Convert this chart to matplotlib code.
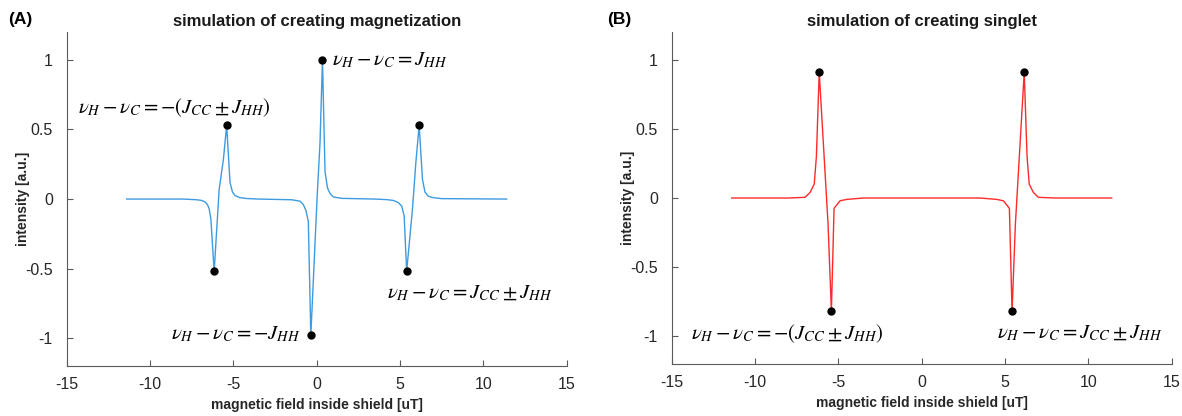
import matplotlib
matplotlib.use("Agg")
import matplotlib.pyplot as plt

plt.rcParams['font.family'] = ['Liberation Sans', 'DejaVu Sans']
plt.rcParams['mathtext.fontset'] = 'stix'
plt.rcParams['axes.unicode_minus'] = False

# panel A: magnetization spectrum
xa = [-11.4, -8.0, -7.2, -6.9, -6.7, -6.55, -6.45, -6.35, -6.15, -5.85, -5.6, -5.4,
      -5.2, -5.05, -4.9, -4.6, -4.2, -3.5,
      -1.5, -1.0, -0.8, -0.65, -0.5, -0.35, 0.03, 0.2, 0.35, 0.5, 0.65, 0.8, 1.0, 1.5,
      3.5, 4.2, 4.6, 4.9, 5.1, 5.25, 5.4, 5.75, 5.95, 6.15, 6.35, 6.5, 6.7, 7.0, 7.5, 11.4]
ya = [0, 0, -0.005, -0.01, -0.02, -0.04, -0.07, -0.14, -0.52, 0.07, 0.28, 0.53,
      0.12, 0.05, 0.025, 0.01, 0.004, 0,
      -0.005, -0.015, -0.04, -0.08, -0.16, -0.98, 0.02, 0.4, 1.0, 0.2, 0.08, 0.04, 0.015, 0.005,
      0, -0.004, -0.01, -0.025, -0.05, -0.12, -0.52, -0.07, 0.26, 0.53, 0.14, 0.05, 0.02, 0.01, 0.003, 0]
peaks_xa = [-6.15, -5.4, -0.35, 0.35, 5.4, 6.15]
peaks_ya = [-0.52, 0.53, -0.98, 1.0, -0.52, 0.53]

# panel B: singlet spectrum
xb = [-11.4, -8.0, -7.0, -6.7, -6.45, -6.32, -6.15, -5.62, -5.42, -5.26, -5.1, -4.9, -4.5, -3.5,
      3.5, 4.5, 4.9, 5.1, 5.26, 5.42, 5.62, 6.15, 6.32, 6.45, 6.7, 7.0, 8.0, 11.4]
yb = [0, 0, 0.005, 0.04, 0.1, 0.3, 0.91, -0.19, -0.82, -0.075, -0.05, -0.02, -0.01, 0,
      0, -0.01, -0.02, -0.05, -0.075, -0.82, -0.19, 0.91, 0.3, 0.1, 0.04, 0.005, 0, 0]
peaks_xb = [-6.15, -5.42, 5.42, 6.15]
peaks_yb = [0.91, -0.82, -0.82, 0.91]

xticks = [-15, -10, -5, 0, 5, 10, 15]
yticks = [-1, -0.5, 0, 0.5, 1]
ytick_labels = ['-1', '-0.5', '0', '0.5', '1']

fig = plt.figure(figsize=(11.82, 4.16), dpi=100)
axA = fig.add_axes([0.0564, 0.120, 0.423, 0.803])
axB = fig.add_axes([0.5683, 0.125, 0.423, 0.798])

gray = '#262626'
for ax in (axA, axB):
    ax.set_xlim(-15, 15)
    ax.set_ylim(-1.2, 1.2)
    ax.set_xticks(xticks)
    ax.set_yticks(yticks)
    ax.set_yticklabels(ytick_labels)
    ax.spines['top'].set_visible(False)
    ax.spines['right'].set_visible(False)
    for s in ('left', 'bottom'):
        ax.spines[s].set_color('#5a5a5a')
        ax.spines[s].set_linewidth(0.8)
    ax.tick_params(direction='in', length=4, width=0.8, colors='#5a5a5a',
                   labelcolor=gray, labelsize=11.5)
    ax.tick_params(axis='y', pad=10)
    ax.tick_params(axis='x', pad=8)
    ax.set_xlabel('magnetic field inside shield [uT]', fontsize=10, fontweight='bold',
                  color=gray, labelpad=4)
    ax.set_ylabel('intensity [a.u.]', fontsize=10, fontweight='bold', color=gray)
    ax.yaxis.set_label_coords(-0.074, 0.5)

axA.plot(xa, ya, color='#3d9be0', lw=1.0)
axA.plot(peaks_xa, peaks_ya, 'o', color='black', ms=5)
axA.set_title('simulation of creating magnetization', fontsize=12, fontweight='bold',
              color='#1a1a1a', pad=4)

axB.plot(xb, yb, color='#ff2a2a', lw=1.0)
axB.plot(peaks_xb, peaks_yb, 'o', color='black', ms=5)
axB.set_title('simulation of creating singlet', fontsize=12, fontweight='bold',
              color='#1a1a1a', pad=4)

fs = 15
axA.text(0.9, 1.0, r'$\nu_H - \nu_C = J_{HH}$', fontsize=fs, ha='left', va='center')
axA.text(-14.3, 0.66, r'$\nu_H - \nu_C = -(J_{CC} \pm J_{HH})$', fontsize=fs, ha='left', va='center')
axA.text(-0.95, -0.97, r'$\nu_H - \nu_C = -J_{HH}$', fontsize=fs, ha='right', va='center')
axA.text(4.2, -0.68, r'$\nu_H - \nu_C = J_{CC} \pm J_{HH}$', fontsize=fs, ha='left', va='center')

axB.text(-13.85, -0.98, r'$\nu_H - \nu_C = -(J_{CC} \pm J_{HH})$', fontsize=fs, ha='left', va='center')
axB.text(4.5, -0.98, r'$\nu_H - \nu_C = J_{CC} \pm J_{HH}$', fontsize=fs, ha='left', va='center')

fig.text(0.007, 0.952, '(A)', fontsize=12.5, fontweight='bold', ha='left', va='center')
fig.text(0.514, 0.952, '(B)', fontsize=12.5, fontweight='bold', ha='left', va='center')

fig.savefig('out.png', dpi=100)
